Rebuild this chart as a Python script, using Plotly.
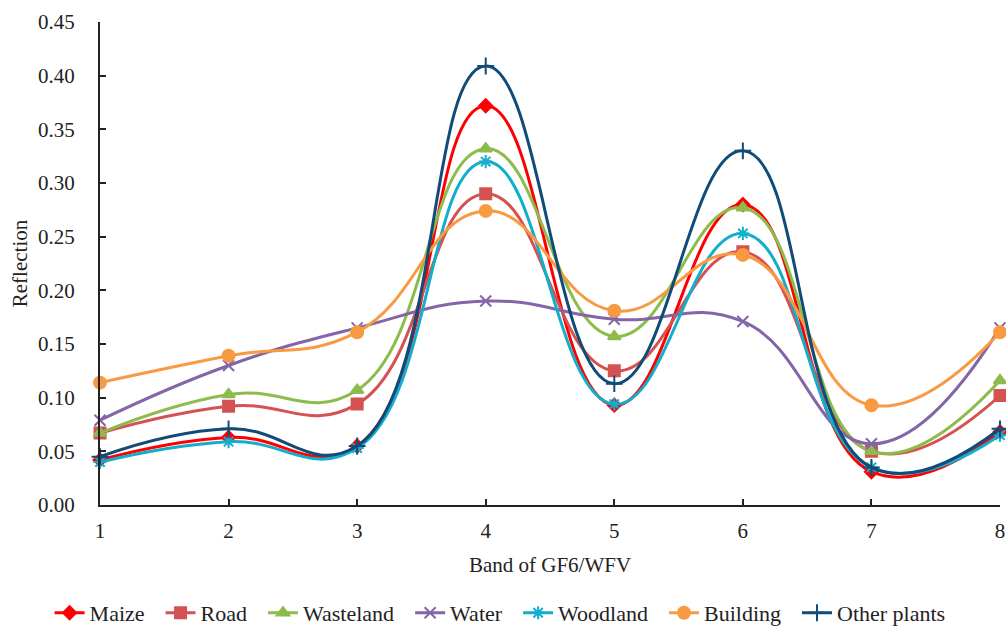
import plotly.graph_objects as go

bands = [1, 2, 3, 4, 5, 6, 7, 8]
maize = [0.042, 0.063, 0.055, 0.372, 0.093, 0.280, 0.031, 0.068]
road = [0.067, 0.092, 0.094, 0.290, 0.125, 0.236, 0.050, 0.102]
wasteland = [0.067, 0.103, 0.107, 0.332, 0.157, 0.277, 0.050, 0.116]
water = [0.079, 0.130, 0.165, 0.190, 0.173, 0.171, 0.057, 0.165]
woodland = [0.040, 0.059, 0.053, 0.320, 0.094, 0.253, 0.035, 0.065]
building = [0.114, 0.139, 0.161, 0.274, 0.181, 0.233, 0.093, 0.161]
other_plants = [0.045, 0.071, 0.055, 0.409, 0.113, 0.330, 0.035, 0.071]

series = [
    ("Maize", maize, "#FF0000", "diamond", 10),
    ("Road", road, "#D65151", "square", 11),
    ("Wasteland", wasteland, "#8DBB4C", "triangle-up", 11),
    ("Water", water, "#8465A8", "x-thin", 11),
    ("Woodland", woodland, "#12AECB", "asterisk", 11),
    ("Building", building, "#F89A42", "circle", 12),
    ("Other plants", other_plants, "#114B78", "cross-thin", 12),
]

PAD = "\u00a0\u00a0"
fig = go.Figure()
for i, (name, ys, color, sym, size) in enumerate(series):
    label = name + (PAD if i < len(series) - 1 else "")
    fig.add_trace(go.Scatter(
        x=bands, y=ys, name=label, mode="lines+markers",
        line=dict(color=color, width=3, shape="spline", smoothing=1.3),
        marker=dict(symbol=sym, size=size, color=color,
                    line=dict(color=color, width=2)),
        cliponaxis=False,
    ))

FF = "Liberation Serif"
TXT = "#222"
fig.update_layout(
    width=1006, height=628,
    margin=dict(l=100, r=6, t=22, b=123, autoexpand=False),
    plot_bgcolor="white", paper_bgcolor="white",
    font=dict(family=FF, size=21, color=TXT),
    showlegend=True,
    legend=dict(orientation="h", x=-0.056, xanchor="left", y=-0.18, yanchor="top",
                font=dict(family=FF, size=22, color=TXT),
                itemwidth=30, tracegroupgap=0),
)
fig.update_xaxes(
    range=[1, 8], tickvals=bands, ticktext=[str(b) for b in bands],
    tickfont=dict(family=FF, size=21, color=TXT),
    showline=True, linecolor="#222", linewidth=2,
    ticks="inside", ticklen=6, tickwidth=1.5, tickcolor="#222",
    ticklabelstandoff=6,
    showgrid=False, zeroline=False, automargin=False,
    title=dict(text="Band of GF6/WFV", font=dict(family=FF, size=21, color=TXT), standoff=15),
)
fig.update_yaxes(
    range=[0, 0.45], dtick=0.05, tickformat=".2f",
    tickfont=dict(family=FF, size=21, color=TXT),
    showline=True, linecolor="#222", linewidth=2,
    ticks="inside", ticklen=6, tickwidth=1.5, tickcolor="#222",
    ticklabelstandoff=19,
    showgrid=False, zeroline=False, automargin=False,
    title=dict(text="Reflection", font=dict(family=FF, size=21, color=TXT), standoff=5),
)
fig.write_html("out.html")
